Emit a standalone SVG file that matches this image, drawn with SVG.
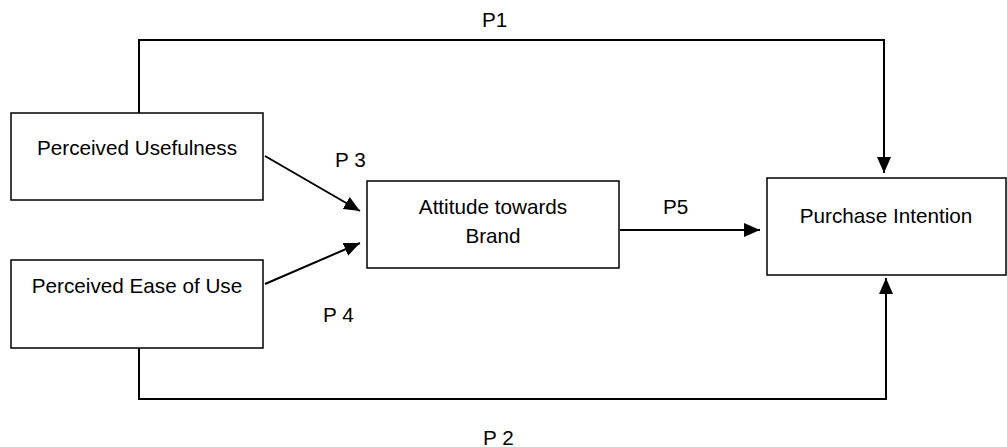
<svg xmlns="http://www.w3.org/2000/svg" width="1007" height="447" viewBox="0 0 1007 447">
<style>
.box{fill:#fff;stroke:#000;stroke-width:1.5}
.lbl{font-family:"Liberation Sans",Arial,sans-serif;font-size:20.7px;fill:#000}
.conn{fill:none;stroke:#000;stroke-width:2}
</style>
<defs>
<marker id="arr" markerUnits="userSpaceOnUse" markerWidth="16" markerHeight="14" refX="16" refY="7" orient="auto">
<path d="M0,0 L16,7 L0,14 z" fill="#000"/>
</marker>
</defs>
<rect width="1007" height="447" fill="#fff"/>
<g id="connectors">
<polyline class="conn" points="139,113 139,40 884,40 884,173" marker-end="url(#arr)"/>
<polyline class="conn" points="139,348 139,399 886,399 886,278" marker-end="url(#arr)"/>
<line class="conn" x1="265" y1="156" x2="360" y2="211" marker-end="url(#arr)"/>
<line class="conn" x1="265" y1="284" x2="360" y2="243" marker-end="url(#arr)"/>
<line class="conn" x1="620" y1="230" x2="760" y2="230" marker-end="url(#arr)"/>
<text class="lbl" x="482" y="27">P1</text>
<text class="lbl" x="483" y="445">P 2</text>
<text class="lbl" x="335" y="167">P 3</text>
<text class="lbl" x="323" y="322">P 4</text>
<text class="lbl" x="663" y="214">P5</text>
</g>
<g id="perceived-usefulness">
<rect class="box" x="11" y="113" width="252" height="87"/>
<text class="lbl" x="137" y="155" text-anchor="middle">Perceived Usefulness</text>
</g>
<g id="perceived-ease-of-use">
<rect class="box" x="11" y="260" width="252" height="88"/>
<text class="lbl" x="137" y="293" text-anchor="middle">Perceived Ease of Use</text>
</g>
<g id="attitude-towards-brand">
<rect class="box" x="367" y="181" width="252" height="87"/>
<text class="lbl" x="493" y="214" text-anchor="middle">Attitude towards</text>
<text class="lbl" x="493" y="243" text-anchor="middle">Brand</text>
</g>
<g id="purchase-intention">
<rect class="box" x="767" y="178" width="239" height="97"/>
<text class="lbl" x="886" y="223" text-anchor="middle">Purchase Intention</text>
</g>
</svg>
